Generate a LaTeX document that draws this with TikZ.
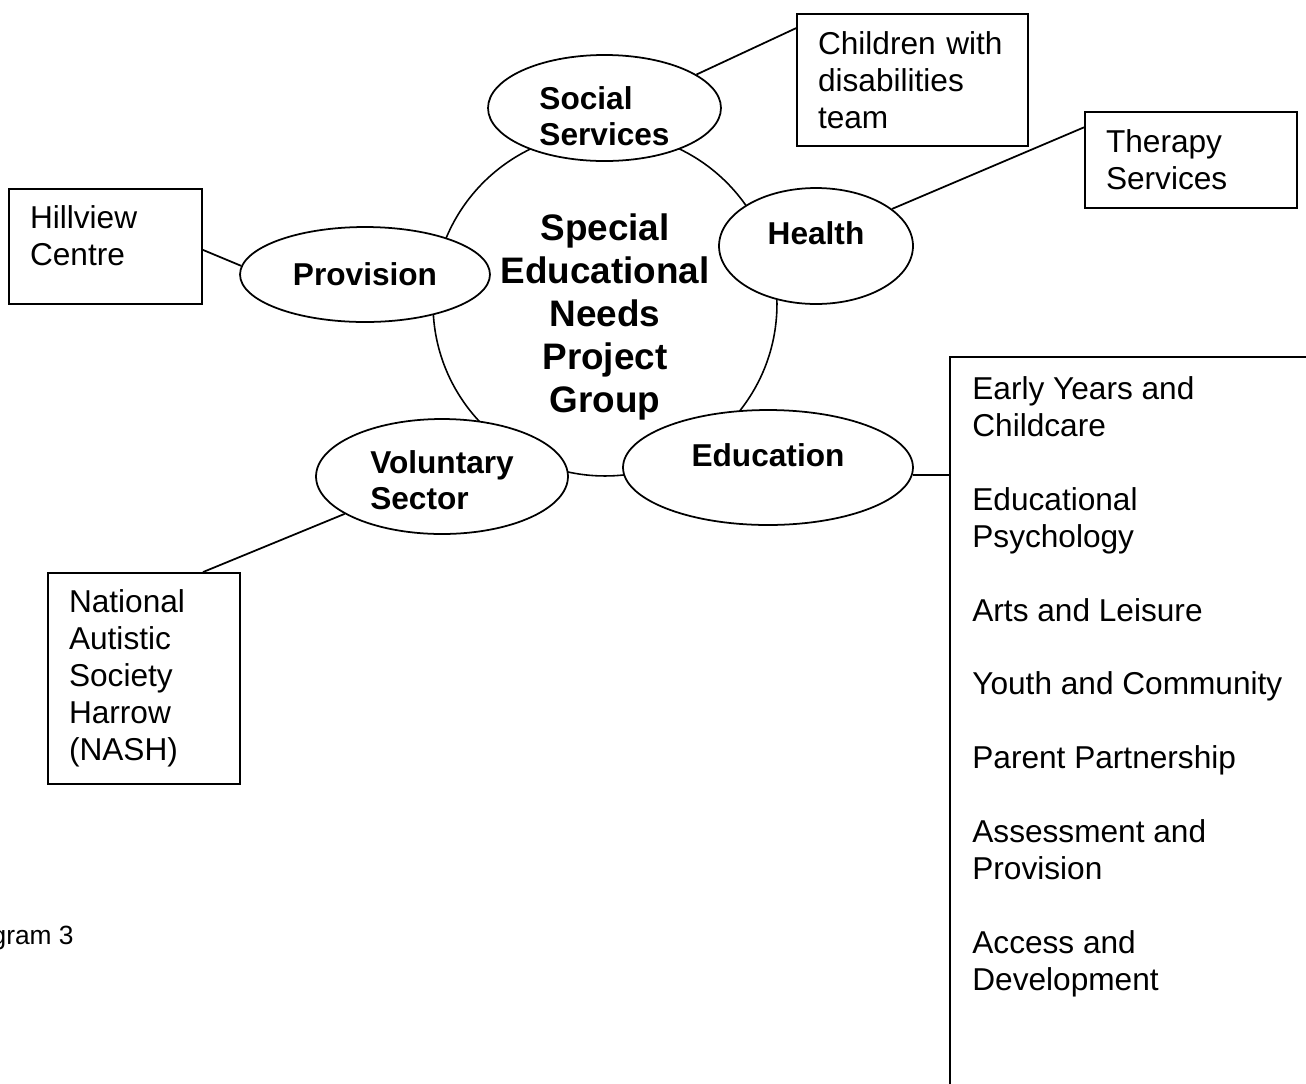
\documentclass[tikz,border=0pt]{standalone}
\usepackage{fontspec}
\setmainfont{Liberation Sans}
\usepackage{tikz}
\usetikzlibrary{shapes.geometric, positioning, calc}

\newcommand{\boxfont}{\fontsize{18}{21}\selectfont}
\newcommand{\ovalfont}{\fontsize{18}{20.5}\selectfont\bfseries}
\newcommand{\hubfont}{\fontsize{21}{24.5}\selectfont\bfseries}

\begin{document}
\begin{tikzpicture}[
    x=0.02cm, y=-0.02cm,
    hub/.style={
        circle,
        draw,
        line width=0.9pt,
        inner sep=0pt,
        minimum size=6.88cm,
        align=center,
        font=\hubfont
    },
    oval/.style={
        ellipse,
        draw,
        fill=white,
        line width=1pt,
        inner sep=0pt,
        align=left,
        font=\ovalfont
    },
    infobox/.style={
        rectangle,
        draw,
        line width=1.1pt,
        inner xsep=0.42cm,
        inner ysep=0pt,
        align=left,
        font=\boxfont
    },
    link/.style={
        line width=1pt
    }
]
\useasboundingbox (0,0) rectangle (1306,1083);

% Centre circle
\node[hub, text height=4.36cm, text depth=0cm] (sen) at (605,304)
    {Special\\Educational\\Needs\\Project\\Group};

% Ovals round the circle
\node[oval, minimum width=4.66cm, minimum height=2.04cm, text height=1.5cm, text depth=0cm]
    (social) at (604.5,108) {Social\\Services};
\node[oval, minimum width=3.88cm, minimum height=2.32cm, text height=0.46cm, text depth=0.52cm]
    (health) at (816,246) {Health};
\node[oval, minimum width=5cm, minimum height=1.9cm]
    (provision) at (365,274.5) {Provision};
\node[oval, minimum width=5.04cm, minimum height=2.3cm, text height=1.32cm, text depth=0cm]
    (voluntary) at (442,476.5) {Voluntary\\Sector};
\node[oval, minimum width=5.8cm, minimum height=2.3cm, text height=0.46cm, text depth=0.5cm]
    (edu) at (768,467.5) {Education};

% Outer boxes
\node[infobox, text width=3.78cm, minimum height=2.64cm] (kids) at (912.5,80)
    {Children with\\disabilities\\team};
\node[infobox, text width=3.4cm, minimum height=1.92cm] (therapy) at (1191,160)
    {Therapy\\Services};
\node[infobox, text width=3.02cm, minimum height=2.3cm, text height=0.46cm, text depth=1.18cm]
    (hillview) at (105.5,246.5) {Hillview\\Centre};
\node[infobox, text width=3cm, minimum height=4.22cm] (nash) at (144,678.5)
    {National\\Autistic\\Society\\Harrow\\(NASH)};

% Education teams (open box)
\node[minimum width=7.12cm, minimum height=14.52cm, inner sep=0pt, anchor=north west]
    (edubox) at (950,357) {};
\draw[link] (edubox.north east) -- (edubox.north west) -- (edubox.south west);
\node[anchor=north west, inner sep=0pt, align=left, font=\boxfont,
      xshift=0.44cm, yshift=-0.39cm] (eduteams) at (edubox.north west)
    {Early Years and\\Childcare\\[21pt]
     Educational\\Psychology\\[21pt]
     Arts and Leisure\\[21pt]
     Youth and Community\\[21pt]
     Parent Partnership\\[21pt]
     Assessment and\\Provision\\[21pt]
     Access and\\Development};

% Links
\draw[link] (social.20) -- (kids.156);
\draw[link] (health.26) -- (therapy.163);
\draw[link] (provision.176) -- (hillview.-2);
\draw[link] (voluntary.201) -- (nash.61);
\draw[link] (edu.-3) -- (edu.-3 -| edubox.west);

% Caption
\node[anchor=base east, inner sep=0pt, font=\fontsize{15}{17}\selectfont]
    (caption) at (74,944) {gram 3};

\end{tikzpicture}
\end{document}
